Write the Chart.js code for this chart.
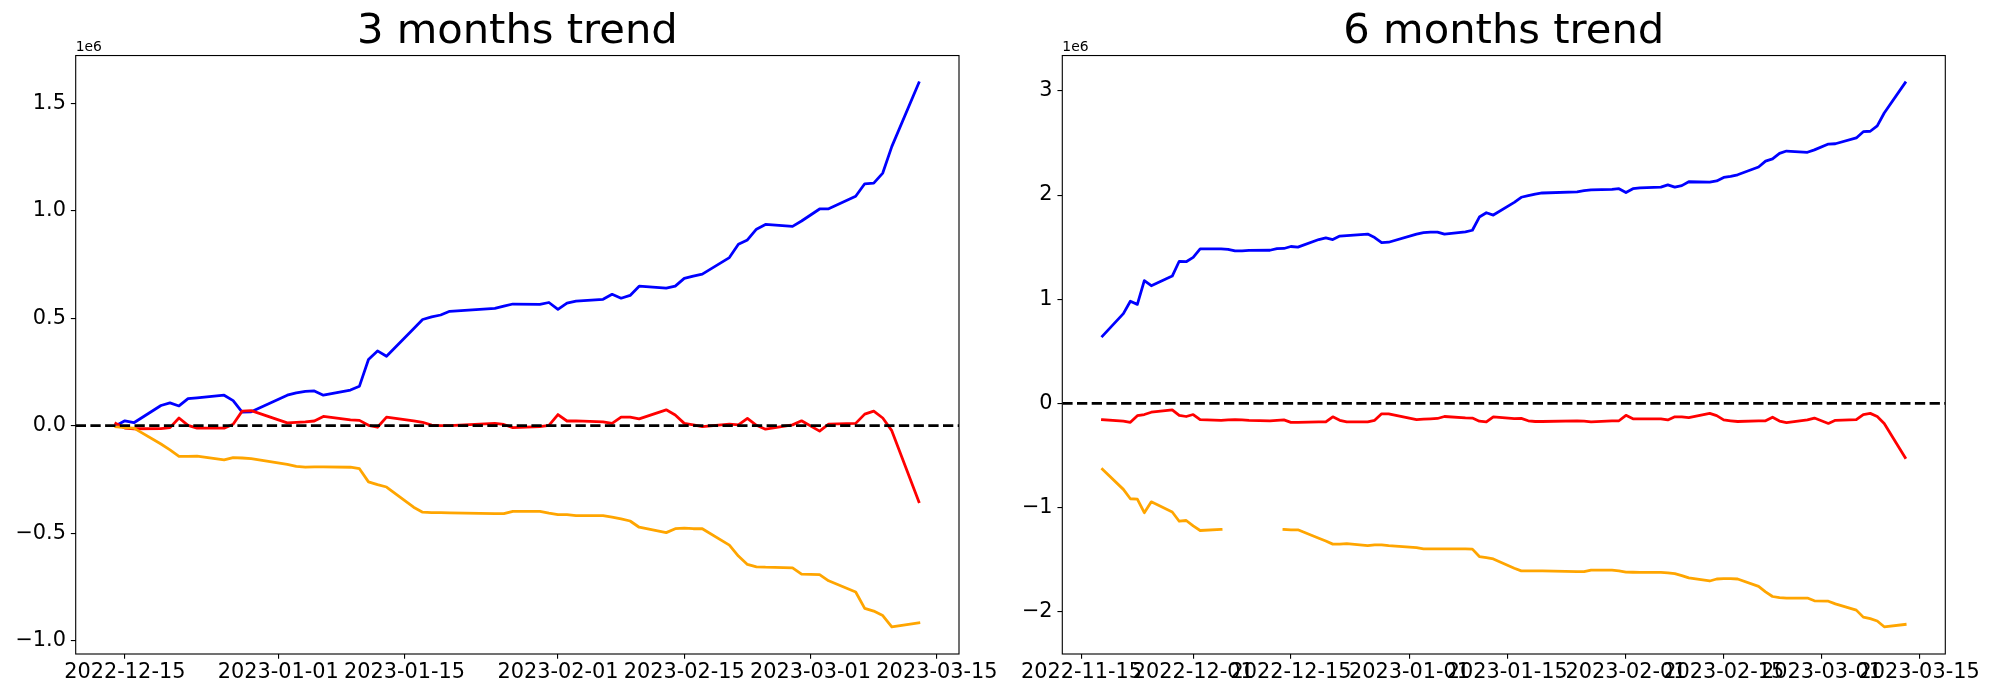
<!DOCTYPE html>
<html><head><meta charset="utf-8">
<script src="https://cdn.jsdelivr.net/npm/chart.js@4/dist/chart.umd.min.js"></script>
<style>
html,body{margin:0;padding:0;background:#fff;}
#wrap{position:relative;width:2000px;height:700px;background:#fff;}
canvas{position:absolute;top:0;}
</style></head><body>
<div id="wrap">
<canvas id="c3" width="1000" height="700" style="left:0px"></canvas>
<canvas id="c6" width="1000" height="700" style="left:1000px"></canvas>
</div>
<script>
// ---------- data: 3 months (values in units of 1e6) ----------
const dates3 = ['2022-12-14','2022-12-15','2022-12-16','2022-12-19','2022-12-20','2022-12-21','2022-12-22','2022-12-23','2022-12-26','2022-12-27','2022-12-28','2022-12-29',
'2023-01-02','2023-01-03','2023-01-04','2023-01-05','2023-01-06','2023-01-09','2023-01-10','2023-01-11','2023-01-12','2023-01-13','2023-01-16','2023-01-17','2023-01-18','2023-01-19','2023-01-20','2023-01-25','2023-01-26','2023-01-27','2023-01-30','2023-01-31',
'2023-02-01','2023-02-02','2023-02-03','2023-02-06','2023-02-07','2023-02-08','2023-02-09','2023-02-10','2023-02-13','2023-02-14','2023-02-15','2023-02-16','2023-02-17','2023-02-20','2023-02-21','2023-02-22','2023-02-23','2023-02-24','2023-02-27','2023-02-28',
'2023-03-02','2023-03-03','2023-03-06','2023-03-07','2023-03-08','2023-03-09','2023-03-10','2023-03-13'];
const blue3 = [0.000,0.023,0.014,0.094,0.106,0.092,0.126,0.130,0.142,0.117,0.063,0.065,
0.142,0.153,0.160,0.162,0.142,0.166,0.184,0.308,0.348,0.323,0.451,0.494,0.506,0.515,0.532,0.546,0.556,0.566,0.564,0.573,
0.541,0.570,0.579,0.588,0.611,0.593,0.606,0.649,0.640,0.649,0.685,0.696,0.705,0.782,0.844,0.864,0.914,0.936,0.927,0.952,
1.008,1.009,1.067,1.125,1.128,1.175,1.298,1.595];
const red3 = [0.011,-0.011,-0.014,-0.013,-0.009,0.036,0.002,-0.011,-0.011,0.007,0.068,0.070,
0.013,0.016,0.018,0.022,0.043,0.027,0.025,0.002,-0.007,0.040,0.023,0.016,0.003,0.000,0.000,0.011,0.006,-0.009,-0.004,0.002,
0.052,0.022,0.023,0.018,0.011,0.040,0.040,0.032,0.074,0.050,0.011,0.004,-0.004,0.007,0.004,0.034,0.002,-0.016,0.004,0.023,
-0.025,0.007,0.011,0.054,0.068,0.036,-0.023,-0.353];
const orange3 = [-0.005,-0.009,-0.011,-0.085,-0.112,-0.142,-0.142,-0.141,-0.159,-0.148,-0.150,-0.153,
-0.180,-0.189,-0.193,-0.191,-0.191,-0.193,-0.200,-0.261,-0.274,-0.285,-0.379,-0.402,-0.404,-0.404,-0.405,-0.409,-0.409,-0.398,-0.398,-0.406,
-0.413,-0.413,-0.418,-0.418,-0.425,-0.433,-0.443,-0.472,-0.497,-0.479,-0.476,-0.479,-0.479,-0.555,-0.606,-0.645,-0.656,-0.658,-0.661,-0.690,
-0.692,-0.721,-0.773,-0.849,-0.862,-0.883,-0.935,-0.916];

// ---------- data: 6 months ----------
const dates6 = ['2022-11-18','2022-11-21','2022-11-22','2022-11-23','2022-11-24','2022-11-25','2022-11-28','2022-11-29','2022-11-30',
'2022-12-01','2022-12-02','2022-12-05','2022-12-06','2022-12-07','2022-12-08','2022-12-09','2022-12-12','2022-12-13','2022-12-14','2022-12-15','2022-12-16','2022-12-19','2022-12-20','2022-12-21','2022-12-22','2022-12-23','2022-12-26','2022-12-27','2022-12-28','2022-12-29',
'2023-01-02','2023-01-03','2023-01-04','2023-01-05','2023-01-06','2023-01-09','2023-01-10','2023-01-11','2023-01-12','2023-01-13','2023-01-16','2023-01-17','2023-01-18','2023-01-19','2023-01-20','2023-01-25','2023-01-26','2023-01-27','2023-01-30','2023-01-31',
'2023-02-01','2023-02-02','2023-02-03','2023-02-06','2023-02-07','2023-02-08','2023-02-09','2023-02-10','2023-02-13','2023-02-14','2023-02-15','2023-02-16','2023-02-17','2023-02-20','2023-02-21','2023-02-22','2023-02-23','2023-02-24','2023-02-27','2023-02-28',
'2023-03-02','2023-03-03','2023-03-06','2023-03-07','2023-03-08','2023-03-09','2023-03-10','2023-03-13'];
const blue6 = [0.645,0.861,0.980,0.950,1.178,1.129,1.222,1.364,1.360,
1.401,1.483,1.483,1.478,1.463,1.465,1.468,1.470,1.485,1.487,1.506,1.500,1.573,1.588,1.573,1.606,1.610,1.625,1.592,1.543,1.547,
1.625,1.640,1.644,1.644,1.625,1.647,1.662,1.789,1.830,1.808,1.930,1.979,1.994,2.009,2.020,2.031,2.042,2.050,2.054,2.061,
2.024,2.061,2.069,2.076,2.098,2.076,2.091,2.128,2.124,2.136,2.169,2.180,2.195,2.270,2.326,2.348,2.400,2.423,2.411,2.434,
2.490,2.493,2.549,2.609,2.613,2.665,2.788,3.079];
const red6 = [-0.157,-0.171,-0.183,-0.119,-0.108,-0.086,-0.063,-0.116,-0.127,
-0.108,-0.157,-0.164,-0.160,-0.157,-0.160,-0.164,-0.168,-0.164,-0.160,-0.183,-0.183,-0.179,-0.179,-0.130,-0.164,-0.179,-0.179,-0.164,-0.101,-0.101,
-0.157,-0.153,-0.150,-0.146,-0.127,-0.140,-0.142,-0.172,-0.179,-0.130,-0.147,-0.145,-0.168,-0.175,-0.175,-0.168,-0.172,-0.179,-0.168,-0.168,
-0.116,-0.149,-0.149,-0.149,-0.160,-0.130,-0.130,-0.138,-0.097,-0.119,-0.160,-0.168,-0.175,-0.168,-0.168,-0.134,-0.171,-0.186,-0.160,-0.142,
-0.194,-0.164,-0.157,-0.108,-0.097,-0.127,-0.194,-0.522];
const orange6 = [-0.634,-0.827,-0.917,-0.921,-1.051,-0.947,-1.044,-1.133,-1.126,
-1.178,-1.222,-1.211,null,null,null,null,null,null,-1.211,-1.215,-1.215,-1.297,-1.323,-1.353,-1.353,-1.349,-1.368,-1.360,-1.360,-1.368,
-1.386,-1.398,-1.398,-1.398,-1.398,-1.398,-1.401,-1.472,-1.483,-1.495,-1.584,-1.610,-1.610,-1.610,-1.610,-1.618,-1.618,-1.603,-1.603,-1.610,
-1.621,-1.623,-1.625,-1.625,-1.628,-1.636,-1.655,-1.677,-1.707,-1.688,-1.685,-1.685,-1.688,-1.759,-1.811,-1.856,-1.867,-1.871,-1.871,-1.897,
-1.901,-1.927,-1.987,-2.054,-2.069,-2.091,-2.147,-2.124];

// ---------- ticks / labels ----------
const xTicks3 = ['2022-12-15','2023-01-01','2023-01-15','2023-02-01','2023-02-15','2023-03-01','2023-03-15'];
const xTicks6 = ['2022-11-15','2022-12-01','2022-12-15','2023-01-01','2023-01-15','2023-02-01','2023-02-15','2023-03-01','2023-03-15'];
const yTicks3 = [-1.0,-0.5,0,0.5,1.0,1.5];
const yLabels3 = ['\u22121.0','\u22120.5','0.0','0.5','1.0','1.5'];
const yTicks6 = [-2,-1,0,1,2,3];
const yLabels6 = ['\u22122','\u22121','0','1','2','3'];
const titles = ['3 months trend','6 months trend'];
const offsetText = '1e6';

// ---------- helpers ----------
const toDay = s => Date.UTC(+s.slice(0,4), +s.slice(5,7)-1, +s.slice(8,10)) / 86400000;
const FONT = 'DejaVu Sans';
Chart.defaults.font.family = FONT;
Chart.defaults.color = '#000';

const framePlugin = {
  id: 'mplFrame',
  afterDatasetsDraw(chart) {
    const {ctx, chartArea: a} = chart;
    const py = chart.scales.y.getPixelForValue(0);
    ctx.save();
    ctx.beginPath(); ctx.rect(a.left, a.top, a.width, a.height); ctx.clip();
    ctx.setLineDash([10.3, 4.4]);
    ctx.lineWidth = 2.78; ctx.strokeStyle = '#000';
    ctx.beginPath(); ctx.moveTo(a.left, py); ctx.lineTo(a.right, py); ctx.stroke();
    ctx.restore();
  },
  afterDraw(chart) {
    const {ctx, chartArea: a} = chart;
    ctx.save();
    ctx.lineWidth = 1.11; ctx.strokeStyle = '#000';
    ctx.strokeRect(a.left, a.top, a.width, a.height);
    ctx.fillStyle = '#000';
    ctx.font = '13.9px "' + FONT + '"';
    ctx.textAlign = 'left'; ctx.textBaseline = 'alphabetic';
    ctx.fillText(offsetText, a.left, a.top - 4.6);
    ctx.restore();
  }
};

function series(dates, vals, color, order) {
  return {
    data: dates.map((d, i) => ({x: toDay(d), y: vals[i]})),
    borderColor: color, backgroundColor: color, borderWidth: 2.78,
    pointRadius: 0, pointHoverRadius: 0, tension: 0, fill: false, spanGaps: false,
    borderJoinStyle: 'round', borderCapStyle: 'square', order: order
  };
}

function makeChart(id, title, dates, blue, red, orange, xTicks, yTicks, yLabels, yWidth, padRight) {
  const xs = dates.map(toDay);
  const xSpan = xs[xs.length-1] - xs[0];
  const all = blue.concat(red, orange).filter(v => v !== null);
  const lo = Math.min(...all), hi = Math.max(...all), ySpan = hi - lo;
  const tickDays = xTicks.map(toDay);
  const gridOpts = {display: true, drawOnChartArea: false, drawTicks: true, tickLength: 4.86, color: '#000', lineWidth: 1.11};
  return new Chart(document.getElementById(id), {
    type: 'line',
    data: {datasets: [
      series(dates, blue, '#0000ff', 3),
      series(dates, red, '#ff0000', 2),
      series(dates, orange, '#ffa500', 1)
    ]},
    options: {
      responsive: false, animation: false, devicePixelRatio: 1,
      events: [],
      layout: {padding: {left: 0, right: padRight, top: 0, bottom: 0}},
      plugins: {
        legend: {display: false}, tooltip: {enabled: false},
        title: {display: true, text: title, fullSize: false, color: '#000',
          font: {family: FONT, size: 41.67, weight: 'normal', lineHeight: 1.1},
          padding: {top: 9.7, bottom: 0}}
      },
      scales: {
        x: {
          type: 'linear',
          min: xs[0] - 0.05 * xSpan, max: xs[xs.length-1] + 0.05 * xSpan,
          afterBuildTicks: s => { s.ticks = tickDays.map(v => ({value: v})); },
          afterFit: s => { s.height = 46; },
          grid: gridOpts, border: {display: false},
          ticks: {autoSkip: false, maxRotation: 0, minRotation: 0, padding: 1, color: '#000',
            font: {family: FONT, size: 20.83}, callback: (v, i) => xTicks[i]}
        },
        y: {
          type: 'linear',
          min: lo - 0.05 * ySpan, max: hi + 0.05 * ySpan,
          afterBuildTicks: s => { s.ticks = yTicks.map(v => ({value: v})); },
          afterFit: s => { s.width = yWidth; },
          grid: gridOpts, border: {display: false},
          ticks: {padding: 4.86, color: '#000', font: {family: FONT, size: 20.83},
            callback: (v, i) => yLabels[i]}
        }
      }
    },
    plugins: [framePlugin]
  });
}

makeChart('c3', titles[0], dates3, blue3, red3, orange3, xTicks3, yTicks3, yLabels3, 75.7, 41);
makeChart('c6', titles[1], dates6, blue6, red6, orange6, xTicks6, yTicks6, yLabels6, 62.3, 54.7);
</script>
</body></html>
